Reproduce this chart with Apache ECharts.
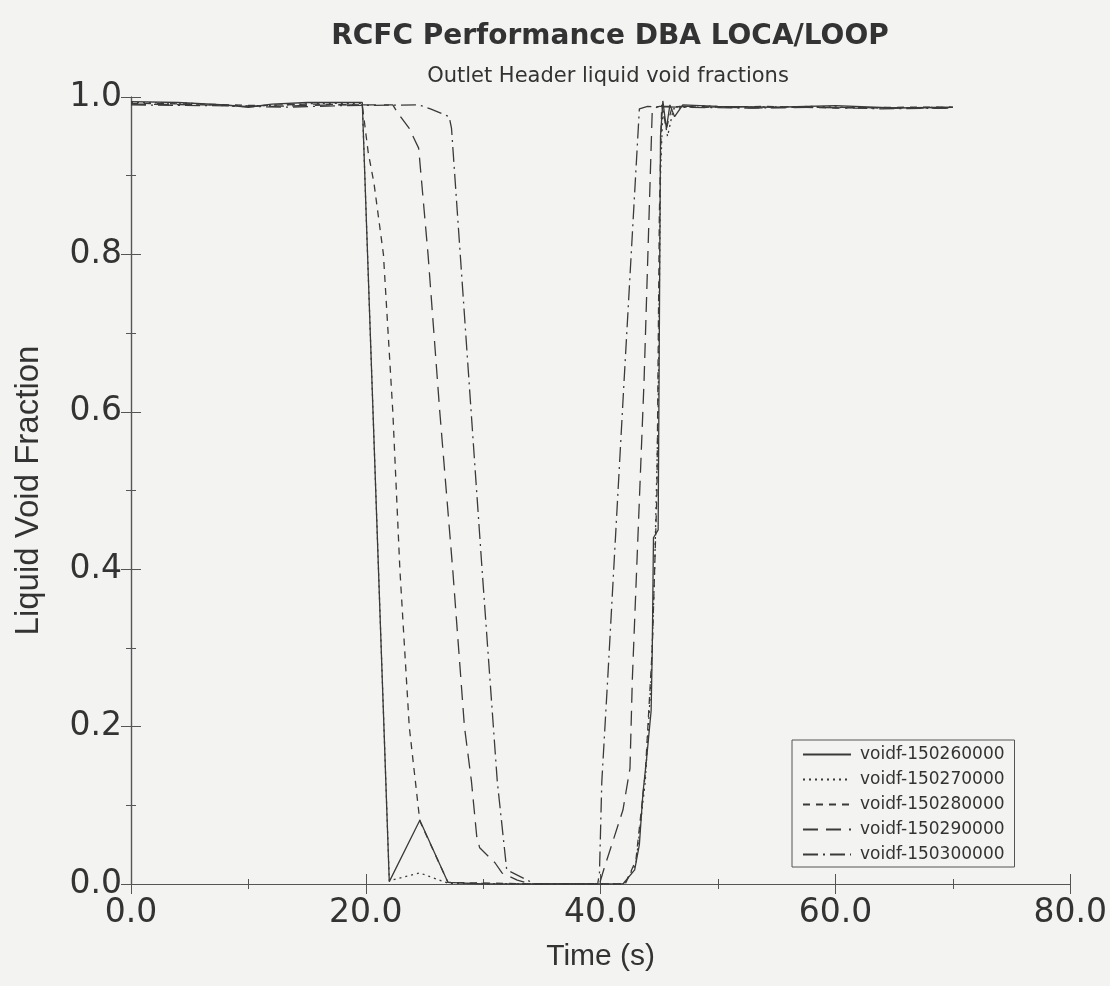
<html>
<head>
    <title>RCFC Performance DBA LOCA/LOOP</title>
    <meta http-equiv="Content-Type" content="text/html; charset=UTF-8">
    <script src="https://cdn.jsdelivr.net/npm/echarts@6/dist/echarts.min.js"></script>
    <style>
        body { margin: 0; background: #f3f3f1; }
        #main { width: 1110px; height: 986px; }
    </style>
</head>
<body>
<div id="main"></div>
<script type="text/javascript">
    // time (s) and liquid void fraction
    var t260 = [0, 4, 8, 10, 12, 15, 18, 19.7, 22.0, 24.6, 27.0, 30, 35, 41.9, 42.9, 43.3, 43.6, 43.9, 44.3, 44.4, 44.5, 44.9, 45.0, 45.1, 45.3, 45.6, 45.9, 46.3, 47, 50, 55, 60, 65, 70];
    var v260 = [0.994, 0.993, 0.990, 0.987, 0.991, 0.993, 0.993, 0.993, 0.003, 0.081, 0.002, 0, 0, 0, 0.018, 0.05, 0.115, 0.157, 0.22, 0.30, 0.44, 0.45, 0.70, 0.95, 0.995, 0.96, 0.99, 0.975, 0.990, 0.988, 0.987, 0.989, 0.986, 0.987];

    var t270 = [0, 5, 9, 13, 16, 19.7, 22.0, 24.6, 27.0, 35, 42.0, 43.0, 43.8, 44.3, 44.6, 44.9, 45.1, 45.3, 45.7, 46.2, 48, 52, 58, 64, 70];
    var v270 = [0.993, 0.992, 0.988, 0.990, 0.992, 0.992, 0.004, 0.014, 0.001, 0, 0, 0.025, 0.13, 0.26, 0.40, 0.60, 0.90, 0.985, 0.95, 0.985, 0.989, 0.987, 0.988, 0.986, 0.987];

    var t280 = [0, 6, 11, 15, 19.7, 20.2, 20.7, 21.5, 22.3, 22.9, 23.7, 24.6, 27.0, 35, 42.1, 43.0, 43.8, 44.4, 44.8, 45.0, 45.2, 45.6, 46.1, 49, 54, 60, 66, 70];
    var v280 = [0.992, 0.991, 0.989, 0.991, 0.990, 0.93, 0.89, 0.80, 0.60, 0.40, 0.20, 0.08, 0.002, 0, 0, 0.03, 0.14, 0.30, 0.50, 0.85, 0.99, 0.96, 0.988, 0.987, 0.988, 0.986, 0.987, 0.987];

    var t290 = [0, 6, 12, 17, 22.3, 22.7, 23.7, 24.5, 25.3, 26.3, 27.4, 28.4, 29.0, 29.45, 29.7, 31.0, 31.6, 32.9, 34.0, 39.9, 40.3, 41.9, 42.5, 42.7, 43.7, 44.4, 45, 48, 53, 59, 65, 70];
    var v290 = [0.991, 0.990, 0.988, 0.990, 0.990, 0.98, 0.96, 0.935, 0.80, 0.60, 0.40, 0.20, 0.13, 0.06, 0.046, 0.027, 0.014, 0.005, 0, 0, 0.02, 0.094, 0.147, 0.26, 0.64, 0.985, 0.988, 0.988, 0.986, 0.987, 0.986, 0.986];

    var t300 = [0, 7, 13, 18, 24.5, 25.5, 27.1, 27.3, 29.9, 31.2, 32.0, 34.4, 39.75, 39.9, 40.1, 40.6, 42.0, 43.3, 44, 47, 52, 58, 64, 70];
    var v300 = [0.990, 0.989, 0.987, 0.989, 0.990, 0.985, 0.975, 0.96, 0.40, 0.13, 0.018, 0, 0, 0.014, 0.13, 0.26, 0.64, 0.985, 0.988, 0.987, 0.986, 0.987, 0.985, 0.986];

    var names = ['voidf-150260000', 'voidf-150270000', 'voidf-150280000', 'voidf-150290000', 'voidf-150300000'];
    var xTicks = ['0.0', '20.0', '40.0', '60.0', '80.0'];

    function pair(t, v) {
        var d = [];
        for (var i = 0; i < t.length; i++) d.push([t[i], v[i]]);
        return d;
    }

    var lineData = [pair(t260, v260), pair(t270, v270), pair(t280, v280), pair(t290, v290), pair(t300, v300)];
    var dashes = ['solid', [2, 4], [7, 6], [15, 8], [15, 5, 2, 5]];

    var ink = '#3a3a3a';
    var font = 'Liberation Sans, Arial, sans-serif';
    var wide = 'DejaVu Sans, sans-serif';

    var seriesList = [];
    for (var i = 0; i < names.length; i++) {
        seriesList.push({
            name: names[i],
            type: 'line',
            data: lineData[i],
            symbol: 'none',
            animation: false,
            lineStyle: { color: ink, width: 1.3, type: dashes[i] },
            itemStyle: { color: ink }
        });
    }

    var myChart = echarts.init(document.getElementById('main'));

    var axisCommon = {
        axisLine: { show: true, lineStyle: { color: '#555', width: 1.2 } },
        axisTick: { show: true, inside: true, length: 10, lineStyle: { color: '#555' } },
        minorTick: { show: true, splitNumber: 2, length: 5, lineStyle: { color: '#555' } },
        splitLine: { show: false }
    };

    var option = {
        backgroundColor: '#f3f3f1',
        title: [
            {
                text: 'RCFC Performance DBA LOCA/LOOP',
                left: 605, top: 18, textAlign: 'center',
                textStyle: { fontFamily: wide, fontSize: 28, fontWeight: 'bold', color: '#333' }
            },
            {
                text: 'Outlet Header liquid void fractions',
                left: 603, top: 61, textAlign: 'center',
                textStyle: { fontFamily: wide, fontSize: 21, fontWeight: 'normal', color: '#333' }
            }
        ],
        legend: {
            data: names,
            orient: 'vertical',
            left: 792, top: 740,
            padding: [6, 10, 4, 10],
            itemWidth: 48, itemHeight: 12, itemGap: 8,
            itemStyle: { opacity: 0 },
            borderColor: '#555', borderWidth: 1, borderRadius: 0,
            textStyle: { fontFamily: wide, fontSize: 17, color: '#333', padding: [0, 0, 0, 4] }
        },
        grid: { left: 131, right: 39, top: 97, bottom: 102 },
        xAxis: [
            Object.assign({}, axisCommon, {
                type: 'value', min: 0, max: 80, interval: 20,
                name: 'Time (s)', nameLocation: 'middle', nameGap: 58,
                nameTextStyle: { fontFamily: font, fontSize: 30, color: '#333' },
                axisLabel: {
                    margin: 13, fontFamily: wide, fontSize: 33, color: '#333',
                    formatter: function (v) { return xTicks[Math.round(v / 20)]; }
                }
            }),
            Object.assign({}, axisCommon, {
                type: 'value', position: 'top', min: 0, max: 80, interval: 20,
                axisLabel: { show: false }
            })
        ],
        yAxis: [
            Object.assign({}, axisCommon, {
                type: 'value', min: 0, max: 1, interval: 0.2,
                name: 'Liquid Void Fraction', nameLocation: 'middle', nameGap: 86,
                nameTextStyle: { fontFamily: font, fontSize: 33, color: '#333' },
                axisLabel: {
                    margin: 9, fontFamily: wide, fontSize: 33, color: '#333',
                    formatter: function (v) { return v.toFixed(1); }
                }
            }),
            Object.assign({}, axisCommon, {
                type: 'value', position: 'right', min: 0, max: 1, interval: 0.2,
                axisLabel: { show: false }
            })
        ],
        series: seriesList
    };

    myChart.setOption(option);
</script>
</body>
</html>
